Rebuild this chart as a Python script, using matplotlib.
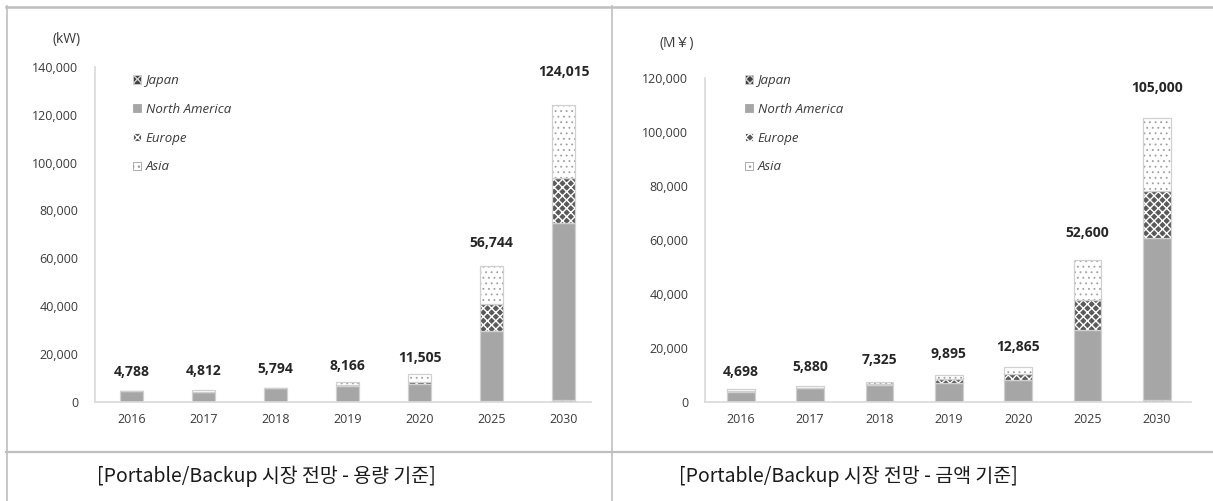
import matplotlib
matplotlib.use("Agg")
import matplotlib.pyplot as plt
from matplotlib.patches import Patch
from matplotlib.lines import Line2D
from matplotlib.ticker import FuncFormatter

plt.rcParams['font.family'] = ['Open Sans', 'Noto Sans CJK KR', 'DejaVu Sans']

years = ['2016', '2017', '2018', '2019', '2020', '2025', '2030']
regions = ['Japan', 'North America', 'Europe', 'Asia']

# capacity outlook (kW)
japan_kw = [0, 0, 0, 0, 0, 500, 800]
na_kw = [4788, 4000, 5794, 6700, 7500, 29200, 74100]
europe_kw = [0, 200, 0, 300, 700, 11400, 18800]
asia_kw = [0, 612, 0, 1166, 3305, 15644, 30315]

# sales outlook (million yen)
japan_yen = [0, 0, 0, 0, 500, 500, 800]
na_yen = [3700, 5000, 6200, 7200, 7500, 26000, 59700]
europe_yen = [400, 0, 400, 1300, 2200, 11100, 17600]
asia_yen = [598, 880, 725, 1395, 2665, 15000, 26900]

captions = ['[Portable/Backup 시장 전망 - 용량 기준]',
            '[Portable/Backup 시장 전망 - 금액 기준]']

W, H = 1213, 501
GRID = '#bfbfbf'
TXT = '#3a3a3a'

# fill style per region: face, hatch, hatch colour, hatch width
styles = {
    'Japan': dict(face='#404040', hatch='xxxx', hc='#d0d0d0', hw=0.8),
    'North America': dict(face='#a6a6a6', hatch=None, hc='#a6a6a6', hw=0.8),
    'Europe': dict(face='#5a5a5a', hatch='xxxx', hc='white', hw=1.0),
    'Asia': dict(face='white', hatch='...', hc='#a0a0a0', hw=0.6),
}

fig = plt.figure(figsize=(W / 100, H / 100), dpi=100)


def px_axes(x0, y_top, x1, y_bot):
    return fig.add_axes([x0 / W, 1 - y_bot / H, (x1 - x0) / W, (y_bot - y_top) / H])


def stacked(ax, series, width, ymax, step, label_px, unit, unit_xy, legend_xy):
    x = range(len(years))
    bottom = [0] * len(years)
    for name, vals in zip(regions, series):
        st = styles[name]
        with plt.rc_context({'hatch.linewidth': st['hw']}):
            ax.bar(x, vals, width, bottom=bottom, color=st['face'],
                   edgecolor=st['hc'], hatch=st['hatch'], linewidth=0)
        ax.bar(x, vals, width, bottom=bottom, fill=False,
               edgecolor='#d0d0d0', linewidth=0.9)
        bottom = [b + v for b, v in zip(bottom, vals)]

    for i, tot in enumerate(bottom):
        ax.annotate(f'{tot:,}', (i, tot), xytext=(0, label_px[i] * 0.72),
                    textcoords='offset points', ha='center', va='center',
                    fontsize=10, fontweight='bold', color='#262626')

    ax.set_ylim(0, ymax)
    ax.set_yticks(range(0, ymax + 1, step))
    ax.yaxis.set_major_formatter(FuncFormatter(lambda v, p: f'{v:,.0f}'))
    ax.set_xticks(list(x))
    ax.set_xticklabels(years)
    ax.tick_params(axis='both', length=0, labelsize=9, colors=TXT)
    ax.tick_params(axis='y', pad=12)
    ax.tick_params(axis='x', pad=8)
    for side in ('top', 'right'):
        ax.spines[side].set_visible(False)
    for side in ('left', 'bottom'):
        ax.spines[side].set_color('#d9d9d9')
        ax.spines[side].set_linewidth(1.2)

    fig.text(unit_xy[0] / W, 1 - unit_xy[1] / H, unit, ha='right', va='center',
             fontsize=10, color=TXT)

    handles = []
    for name in regions:
        st = styles[name]
        handles.append(Patch(facecolor=st['face'], edgecolor=st['hc'],
                             hatch=st['hatch'], linewidth=0.6))
    leg = fig.legend(handles, regions, loc='upper left',
                     bbox_to_anchor=(legend_xy[0] / W, 1 - legend_xy[1] / H),
                     frameon=False, borderpad=0, borderaxespad=0,
                     handlelength=0.6, handleheight=0.6, handletextpad=0.35,
                     labelspacing=1.2, fontsize=9.5)
    for t in leg.get_texts():
        t.set_style('italic')
        t.set_color(TXT)


ax1 = px_axes(95, 66.7, 590.7, 402)
stacked(ax1, [japan_kw, na_kw, europe_kw, asia_kw], 0.32, 140000, 20000,
        [19, 19, 19.4, 16.3, 16, 23, 32.6], '(kW)', (81, 40), (133, 74))
ax1.set_xlim(-0.51, 6.375)

ax2 = px_axes(705, 77.7, 1190.7, 402)
stacked(ax2, [japan_yen, na_yen, europe_yen, asia_yen], 0.40, 120000, 20000,
        [17.3, 19.6, 22, 21.3, 20.7, 26.7, 30.3], '(M￥)', (694, 44), (745, 74))
ax2.set_xlim(-0.516, 6.486)


# table border lines
def fig_line(xs, ys, lw=1.2):
    fig.add_artist(Line2D([v / W for v in xs], [1 - v / H for v in ys],
                          color=GRID, linewidth=lw))


fig_line([6, W], [6.5, 6.5], lw=1.8)
fig_line([6.5, 6.5], [6, H])
fig_line([611.5, 611.5], [6, H])
fig_line([6, W], [452, 452], lw=1.6)

for cx, txt in zip((97, 679), captions):
    fig.text(cx / W, 1 - 476 / H, txt, ha='left', va='center', fontsize=14,
             fontweight='light', color='#1a1a1a',
             family=['Noto Sans CJK KR', 'DejaVu Sans'])

fig.savefig('out.png', dpi=100)
